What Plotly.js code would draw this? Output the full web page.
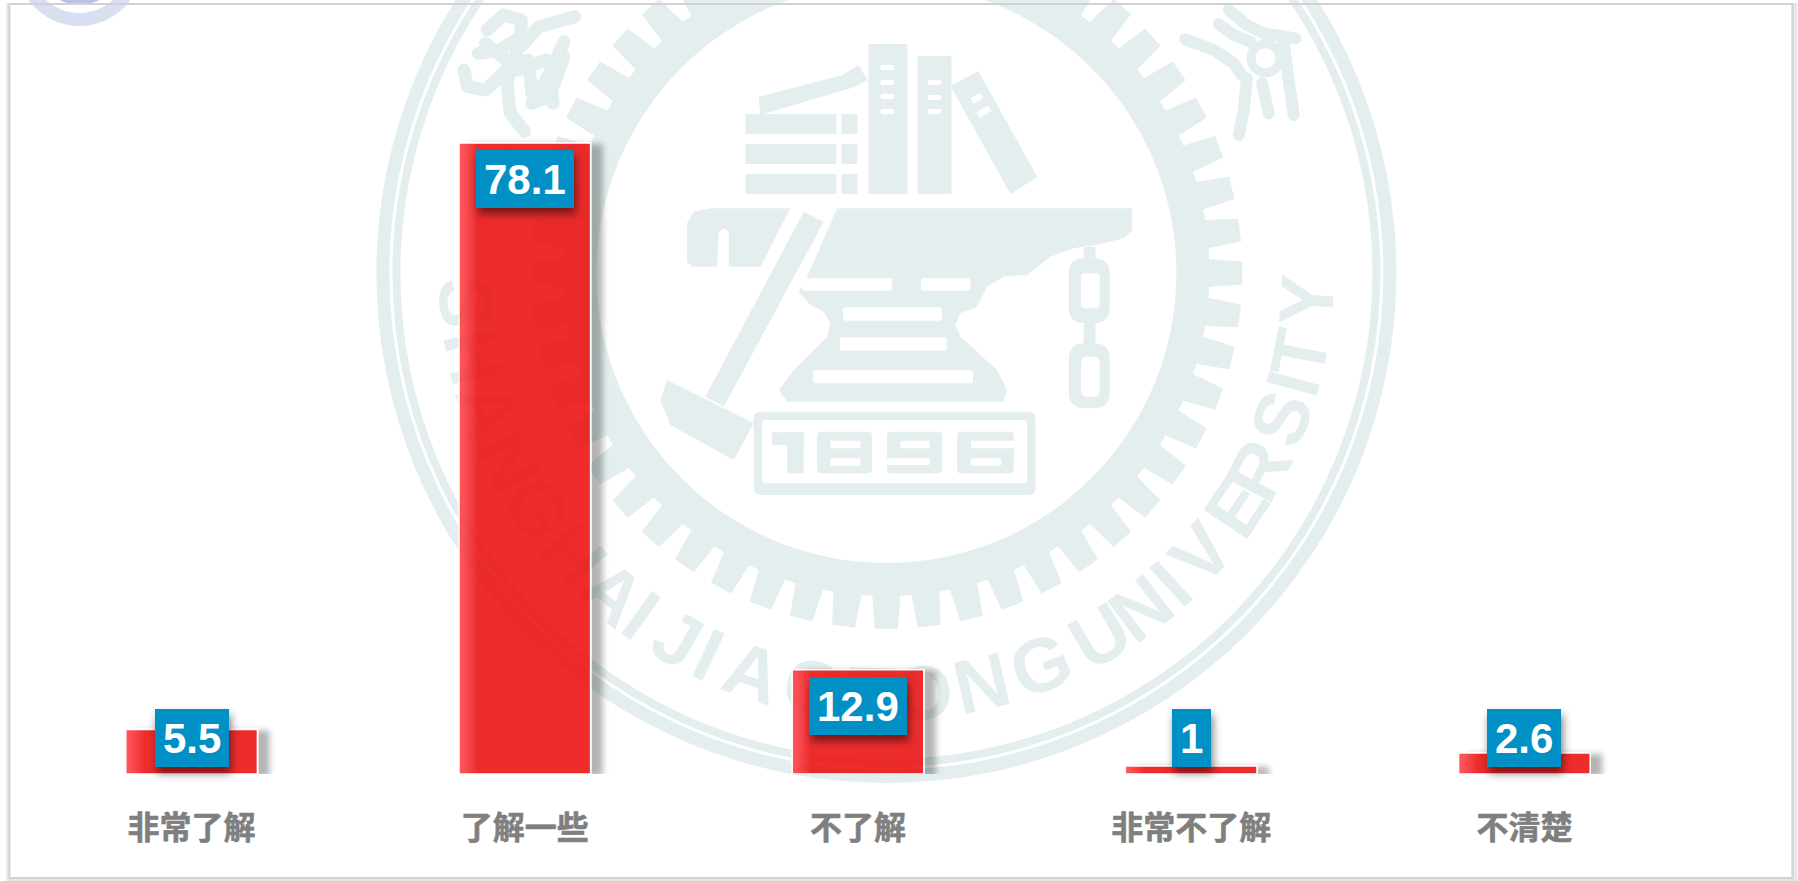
<!DOCTYPE html>
<html><head><meta charset="utf-8">
<script src="https://cdn.plot.ly/plotly-3.0.1.min.js"></script>
<style>html,body{margin:0;padding:0;background:#fff;overflow:hidden}#chart{width:1798px;height:881px}</style>
</head><body>
<svg width="0" height="0" style="position:absolute">
<defs>
<linearGradient id="barGrad" x1="0" x2="1" y1="0" y2="0">
<stop offset="0" stop-color="#FF3C42" stop-opacity="0.87"/>
<stop offset="0.04" stop-color="#FA363B" stop-opacity="0.87"/>
<stop offset="0.14" stop-color="#EC0F11" stop-opacity="0.87"/>
<stop offset="1" stop-color="#EC0F11" stop-opacity="0.87"/>
</linearGradient>
<filter id="barShadow" x="-20%" y="-300%" width="140%" height="700%">
<feGaussianBlur in="SourceAlpha" stdDeviation="3"/>
<feOffset dx="11" dy="2" result="o"/>
<feFlood flood-color="#000" flood-opacity="0.34"/>
<feComposite in2="o" operator="in" result="s"/>
<feComposite in="s" in2="SourceAlpha" operator="out" result="t"/>
<feMerge><feMergeNode in="t"/><feMergeNode in="SourceGraphic"/></feMerge>
</filter>
</defs>
</svg>
<div id="chart"></div>
<script>
const categories = ['非常了解', '了解一些', '不了解', '非常不了解', '不清楚'];
const values = [5.5, 78.1, 12.9, 1, 2.6];
const valueLabels = ['5.5', '78.1', '12.9', '1', '2.6'];

const L = 24.6, W = 1666, H = 774, PXU = 8.08;
const WM = '#E4EEEE', WHITE = '#FFFFFF';
const X = p => ((p - L) / W).toFixed(5), Y = p => (1 - p / H).toFixed(5);
const shapes = [];
const add = (path, fill) => shapes.push({type:'path', xref:'paper', yref:'paper', layer:'below', path, fillcolor: fill, line:{width:0}});
const stroke = (pts, w, col) => shapes.push({type:'path', xref:'paper', yref:'paper', layer:'below', path:'M' + pts.map(p => X(p[0]) + ',' + Y(p[1])).join('L'), fillcolor:'rgba(0,0,0,0)', line:{color: col || WM, width:w}});
const poly = pts => 'M' + pts.map(p => X(p[0]) + ',' + Y(p[1])).join('L') + 'Z';
const rr = (x0,y0,x1,y1,r) => {
  const P = (x,y) => X(x) + ',' + Y(y);
  return 'M'+P(x0+r,y0)+'L'+P(x1-r,y0)+'Q'+P(x1,y0)+' '+P(x1,y0+r)+'L'+P(x1,y1-r)+'Q'+P(x1,y1)+' '+P(x1-r,y1)+'L'+P(x0+r,y1)+'Q'+P(x0,y1)+' '+P(x0,y1-r)+'L'+P(x0,y0+r)+'Q'+P(x0,y0)+' '+P(x0+r,y0)+'Z';
};
const circ = (cx,cy,r,fill) => shapes.push({type:'circle', xref:'paper', yref:'paper', layer:'below', x0:X(cx-r), x1:X(cx+r), y0:Y(cy+r), y1:Y(cy-r), fillcolor:fill, line:{width:0}});

// page frame
shapes.push({type:'rect', xref:'paper', yref:'paper', layer:'below', x0:X(6), x1:X(1797), y0:Y(881), y1:Y(3), fillcolor:'#E6E6E6', line:{width:0}});
shapes.push({type:'rect', xref:'paper', yref:'paper', layer:'below', x0:X(9), x1:X(1792), y0:Y(878), y1:Y(4), fillcolor:WHITE, line:{width:0}});

// corner logo
circ(79,-37,63,'#D9DEF0'); circ(79,-37,50,WHITE); circ(79,-37,42,'#B9C2E6');

// seal rings
const CX = 886, CY = 273;
circ(CX,CY,510,WM); circ(CX,CY,497,WHITE); circ(CX,CY,494,WM); circ(CX,CY,486,WHITE);

// curved lettering
const sealLetters = 'SHANGHAIJIAOTONGUNIVERSITY'.split('');
const sealAngles = [176,168.5,161,153.5,146,138,130.5,125.6,119.7,115,108.5,100,92,85,76.9,68.5,59.5,52.8,47.5,41.7,33.8,27.9,20.2,15.2,11,3.7];
sealLetters.forEach((c,i) => {
  const a = sealAngles[i]*Math.PI/180, x = CX+414*Math.cos(a), y = CY+414*Math.sin(a);
  shapes.push({type:'rect', xref:'paper', yref:'paper', layer:'below', x0:X(x-20), x1:X(x+20), y0:Y(y+20), y1:Y(y-20), fillcolor:'rgba(0,0,0,0)', line:{width:0},
    label:{text:'<b>'+c+'</b>', textangle:sealAngles[i]-90, textposition:'middle center', font:{family:'Liberation Sans', size:76, color:WM}}});
});

// gear
const gear = [];
const TEETH = 52;
for (let k = 0; k < TEETH; k++) {
  const c = k*360/TEETH;
  [[323,-2.5],[356,-1.85],[356,1.85],[323,2.5],[323,3.46]].forEach(q => {
    const a = (c+q[1])*Math.PI/180;
    gear.push([CX+q[0]*Math.cos(a), CY+q[0]*Math.sin(a)]);
  });
}
add(poly(gear), WM);
circ(CX,CY,290,WHITE);

// anvil and hammer (crop coordinates, 3x from 660,200)
const z = a => a.map(p => [660+p[0]/3, 200+p[1]/3]);
add(poly(z([[80,70],[100,35],[150,25],[390,25],[300,200],[205,200],[205,95],[190,85],[175,95],[170,200],[95,200],[80,185]])), WM);
add(poly(z([[530,25],[1415,25],[1415,90],[1390,115],[1330,130],[1240,145],[1170,170],[1100,225],[1030,230],[980,260],[950,320],[900,340],[885,375],[900,410],[1010,510],[1040,570],[1030,605],[380,605],[355,570],[400,510],[500,410],[510,370],[490,335],[450,315],[415,275],[440,230]])), WM);
const zr = (x0,y0,x1,y1,r,f) => add(rr(660+x0/3,200+y0/3,660+x1/3,200+y1/3,r),f);
zr(425,235,695,272,2,WHITE); zr(782,235,930,272,3,WHITE); zr(548,322,845,362,3,WHITE); zr(538,412,858,452,3,WHITE); zr(458,510,938,550,3,WHITE);
add(poly(z([[430,35],[490,65],[190,620],[135,590]])), WM);
add(poly(z([[20,540],[280,670],[220,780],[30,675],[0,600]])), WM);

// chain
zr(1270,140,1305,175,0,WM); zr(1225,175,1348,370,16,WM); zr(1262,220,1318,325,4,WHITE);
zr(1270,370,1305,435,0,WM); zr(1225,430,1348,625,16,WM); zr(1262,470,1318,590,6,WHITE);

// 1896 plate
zr(280,635,1125,885,7,WM); zr(305,660,1100,850,4,WHITE);
zr(380,697,430,820,1,WM); zr(335,697,430,735,1,WM);
zr(470,695,635,820,4,WM); zr(510,722,600,745,1,WHITE); zr(510,775,600,797,1,WHITE);
zr(680,695,845,820,4,WM); zr(720,722,808,745,1,WHITE); zr(680,775,808,795,1,WHITE);
zr(890,695,1060,820,4,WM); zr(932,722,1062,745,1,WHITE); zr(932,775,1022,797,1,WHITE);

// books
[[114,134],[144,164],[174,194]].forEach(r => { add(rr(745,r[0],836,r[1],1),WM); add(rr(841,r[0],857,r[1],1),WM); });
add(rr(868,44,907,194,1),WM); add(rr(917,56,951,194,1),WM);
[65,80,94,109].forEach(y => add(rr(880,y,894,y+5,2),WHITE));
[80,95,109].forEach(y => add(rr(927,y,941,y+5,2),WHITE));
add(poly([[950,86],[978,71],[1037,177],[1010,194]]),WM);
add(poly([[970,98],[980,93],[983,98],[973,104]]),WHITE);
add(poly([[976,112],[988,106],[991,111],[979,118]]),WHITE);
add(poly([[758,97],[842,75],[858,65],[867,80],[851,88],[844,90],[760,115]]),WM);

// seal ornaments, right (3x from 900,0)
const zR = a => a.map(p => [900+p[0]/3, p[1]/3]);
[[[855,118],[940,150],[1000,190],[1025,225]],[[985,30],[1040,75],[1090,100],[1185,115]],[[955,72],[1000,105],[1050,125]],
 [[1040,235],[1030,330],[1015,405]],[[1150,130],[1165,240],[1180,345]],[[1085,250],[1105,340]]].forEach(s => stroke(zR(s),12));
circ(900+1095/3,175/3,19,WM); circ(900+1095/3,175/3,10,WHITE);

// seal ornaments, left (2.8x/3x from 360,0)
const zL = a => a.map(p => [360+p[0]/2.8, p[1]/3]);
[[[600,50],[500,80],[440,150],[410,250],[420,340],[460,395]],[[355,90],[400,45],[450,60],[450,110],[390,150],[330,160]],
 [[290,210],[300,260],[350,270],[400,220],[440,170]],[[570,125],[530,220],[480,310],[530,290],[570,170]],[[440,210],[520,180]],[[530,230],[540,310]],[[350,130],[420,190]],[[470,180],[480,280]]].forEach(s => stroke(zL(s),13));

// outline above watermark
shapes.push({type:'rect', xref:'paper', yref:'paper', layer:'below', x0:X(9), x1:X(1792), y0:Y(878), y1:Y(4), fillcolor:'rgba(0,0,0,0)', line:{color:'#D2D2D2', width:2}});

const annotations = categories.map((c,i) => ({
  x: c, y: Math.max(values[i]-4.5, 4.4), xref:'x', yref:'y', xanchor:'center', yanchor:'middle',
  text: '<b>'+valueLabels[i]+'</b>', showarrow:false, bgcolor:'#0090C6', borderpad:8, borderwidth:0, height:42,
  font:{family:'Liberation Sans, Arial', size:42, color:'#FFFFFF'}
}));

const data = [{type:'bar', x:categories, y:values, cliponaxis:false, hoverinfo:'skip',
  marker:{color:'#EE2E30', line:{color:'#FFFFFF', width:1.5}}}];

const layout = {
  width:1798, height:881, showlegend:false, bargap:0.605,
  margin:{l:L, r:1798-L-W, t:0, b:881-H, pad:0},
  paper_bgcolor:'#FFFFFF', plot_bgcolor:'rgba(0,0,0,0)',
  xaxis:{type:'category', categoryorder:'array', categoryarray:categories, showgrid:false, zeroline:false, showline:false, ticks:'', ticklabelstandoff:32,
    tickfont:{family:'Noto Sans CJK SC', size:32, color:'#7F7F7F', weight:700}, automargin:false},
  yaxis:{visible:false, range:[0,H/PXU], showgrid:false, zeroline:false},
  shapes, annotations
};

Plotly.newPlot('chart', data, layout, {displayModeBar:false, staticPlot:true}).then(() => {
  const gd = document.getElementById('chart');
  gd.querySelectorAll('.bars .point path').forEach(p => { p.style.fill = 'url(#barGrad)'; p.style.filter = 'url(#barShadow)'; });
  gd.querySelectorAll('.annotation rect.bg').forEach(r => { r.style.filter = 'drop-shadow(2px 6px 4px rgba(0,0,0,0.5))'; });
  gd.querySelectorAll('.shapelayer path').forEach(p => { p.style.strokeLinecap = 'round'; p.style.strokeLinejoin = 'round'; });
  gd.querySelectorAll('.xtick text').forEach(t => { t.style.stroke = '#7F7F7F'; t.style.strokeWidth = '0.6px'; });
});
</script>
</body></html>
